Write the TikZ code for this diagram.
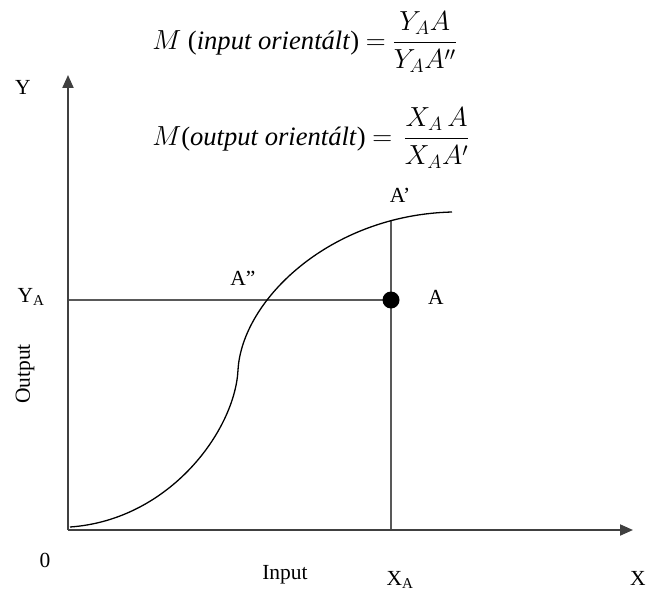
\documentclass[tikz,border=0pt]{standalone}
\usepackage{amsmath}
\usepackage{fontspec}
\setmainfont{Liberation Serif}
\usetikzlibrary{arrows.meta}
\begin{document}
\begin{tikzpicture}[x=1pt,y=-1pt,
  lbl/.style={inner sep=0pt,font=\fontsize{21.5}{24}\selectfont},
  axis/.style={draw=black!75,line width=2pt,-{Triangle[length=13pt,width=11pt]}},
  guide/.style={draw=black!65,line width=2pt},
  frm/.style={inner sep=0pt,anchor=west,scale=1.33,font=\fontsize{20}{24}\selectfont}]
\useasboundingbox (0,0) rectangle (647,591);
\coordinate (O) at (68,530);
\coordinate (Ytop) at (68,75);
\coordinate (Xend) at (633,530);
\coordinate (YA) at (68,300);
\coordinate (A) at (391,300);
\coordinate (XA) at (391,530);
\coordinate (Ap) at (391,220);
% guides
\draw[guide] (YA) -- (A);
\draw[guide] (XA) -- (Ap);
% axes
\draw[axis] (O) -- (Ytop);
\draw[axis] (O) -- (Xend);
% curve
\draw[line width=1.3pt] (70,527) .. controls (170,520) and (235,430) .. (238,370)
  .. controls (242,300) and (330,215) .. (452,212);
\fill (A) circle (8.5);
% labels
\node[lbl] (ly) at (23,87) {Y};
\node[lbl] (lya) at (31,297) {Y\textsubscript{A}};
\node[lbl,rotate=90] (lout) at (25,374) {Output};
\node[lbl] (l0) at (45,560) {0};
\node[lbl] (lin) at (285,575) {Input};
\node[lbl] (lxa) at (400,580) {X\textsubscript{A}};
\node[lbl] (lx) at (638,578) {X};
\node[lbl] (la) at (436,297) {A};
\node[lbl] (lap) at (400,195) {A’};
\node[lbl] (lapp) at (243,278) {A”};
% formulas
\node[frm] (f1) at (152,42) {$M$ (\textit{input orientált}) $=$ $\dfrac{Y_A A}{Y_A A''}$};
\node[frm] (f2) at (152,138) {$M$(\textit{output orientált}) $=$ \,$\dfrac{X_A\, A}{X_A A'}$};
\end{tikzpicture}
\end{document}
